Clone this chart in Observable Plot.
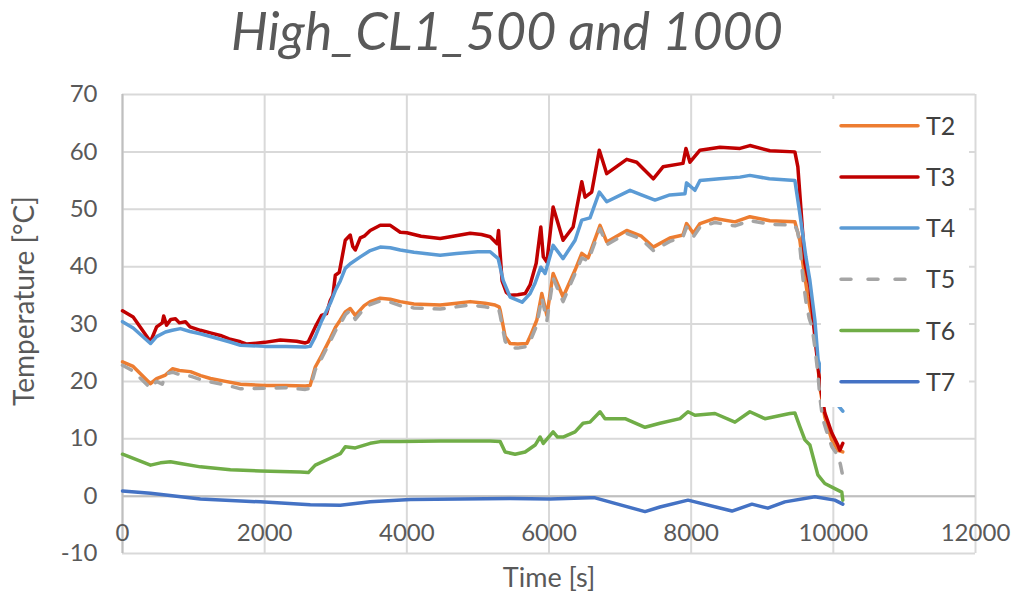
<!DOCTYPE html>
<html>
<head>
<meta charset="utf-8">
<script src="https://cdn.jsdelivr.net/npm/d3@7"></script>
<script src="https://cdn.jsdelivr.net/npm/@observablehq/plot@0.6"></script>
<style>
  html, body { margin: 0; padding: 0; background: #fff; }
  #wrap { position: relative; width: 1014px; height: 597px; background: #fff; overflow: hidden; }
  #title { position: absolute; left: 0; top: 0; width: 1014px; text-align: center;
           font-family: Lato, "Open Sans", sans-serif; font-style: italic; font-weight: 400;
           font-size: 52px; line-height: 60px; color: #595959; }
  #chart { position: absolute; left: 0; top: 0; }
  #legend { position: absolute; left: 821px; top: 99px; }
</style>
</head>
<body>
<div id="wrap">
  <div id="chart"></div>
  <div id="title">High_CL1_500 and 1000</div>
  <div id="legend"></div>
</div>
<script>
const titleText = "High_CL1_500 and 1000";
const xLabel = "Time [s]";
const yLabel = "Temperature [°C]";
const xTicks = [0, 2000, 4000, 6000, 8000, 10000, 12000];
const yTicks = [-10, 0, 10, 20, 30, 40, 50, 60, 70];

const seriesNames = ["T2", "T3", "T4", "T5", "T6", "T7"];
const seriesColors = ["#ED7D31", "#C00000", "#5B9BD5", "#A5A5A5", "#70AD47", "#4472C4"];

// [time s, temperature °C]
const T2 = [[0,23.4],[150,22.6],[394,19.6],[480,20.5],[604,21.1],[703,22.2],[800,21.9],[956,21.7],[1100,21.0],[1237,20.5],[1450,20.0],[1660,19.5],[2000,19.3],[2300,19.3],[2572,19.2],[2640,19.3],[2712,22.5],[2800,24.5],[2923,27.5],[3000,29.5],[3064,30.7],[3134,32.1],[3204,32.7],[3275,31.5],[3400,33.2],[3485,33.9],[3626,34.5],[3767,34.3],[3907,33.9],[4100,33.5],[4469,33.3],[4700,33.6],[4891,33.9],[5100,33.6],[5242,33.3],[5298,33.0],[5313,32.4],[5383,27.8],[5453,26.6],[5560,26.5],[5688,26.6],[5734,27.8],[5829,30.7],[5899,35.3],[5970,31.5],[6058,38.8],[6198,34.7],[6367,39.4],[6461,42.3],[6550,41.5],[6718,47.2],[6812,44.3],[7093,46.3],[7300,45.3],[7467,43.4],[7700,45.0],[7885,45.5],[7935,47.5],[8030,45.8],[8124,47.5],[8335,48.4],[8616,47.8],[8826,48.7],[9107,48.0],[9459,47.8],[9529,44.6],[9572,40.5],[9642,34.7],[9698,31.2],[9740,28.9],[9810,19.0],[9880,13.8],[9979,9.8],[10063,8.0],[10133,7.7]];
const T3 = [[0,32.3],[150,31.2],[394,26.9],[480,29.5],[560,30.2],[580,31.4],[620,29.8],[680,30.8],[745,30.9],[800,30.2],[885,30.4],[950,29.5],[1096,28.9],[1250,28.4],[1377,28.0],[1500,27.4],[1660,26.9],[1750,26.5],[2000,26.8],[2220,27.2],[2450,27.0],[2572,26.7],[2614,26.9],[2712,29.5],[2800,31.5],[2870,31.8],[2923,34.1],[2960,35.0],[2994,38.5],[3050,39.0],[3134,44.6],[3204,45.5],[3240,43.5],[3275,42.9],[3345,45.0],[3400,45.3],[3485,46.3],[3626,47.2],[3767,47.2],[3907,46.0],[4000,45.9],[4200,45.3],[4469,44.9],[4610,45.2],[4891,45.8],[5050,45.6],[5172,45.2],[5270,44.0],[5290,46.3],[5305,43.5],[5340,37.5],[5400,35.5],[5453,35.0],[5560,35.1],[5664,35.3],[5734,36.8],[5820,40.6],[5885,46.9],[5920,41.7],[5970,40.8],[6058,50.4],[6198,44.6],[6339,46.9],[6461,54.8],[6507,52.1],[6601,53.0],[6708,60.3],[6812,56.2],[7093,58.7],[7234,58.2],[7467,55.3],[7604,57.4],[7885,58.0],[7927,60.6],[7983,58.2],[8124,60.3],[8405,60.8],[8686,60.6],[8826,61.1],[9107,60.2],[9459,60.0],[9501,57.4],[9600,40.6],[9670,36.5],[9740,27.8],[9810,19.7],[9880,14.5],[9979,11.0],[10063,8.9],[10091,8.0],[10133,9.2]];
const T4 = [[0,30.4],[150,29.3],[394,26.6],[480,27.8],[604,28.6],[700,28.9],[815,29.2],[950,28.7],[1096,28.3],[1300,27.6],[1500,26.9],[1660,26.3],[2000,26.1],[2300,26.1],[2572,26.0],[2640,26.1],[2712,27.8],[2800,30.5],[2923,33.6],[3000,36.0],[3064,37.5],[3134,39.7],[3204,40.5],[3345,41.7],[3485,42.8],[3626,43.4],[3767,43.3],[3907,42.9],[4100,42.5],[4469,42.0],[4700,42.3],[5000,42.6],[5172,42.6],[5285,41.4],[5355,37.6],[5453,34.7],[5622,33.8],[5734,35.3],[5800,37.0],[5885,39.9],[5945,38.8],[6058,43.7],[6198,41.4],[6367,44.6],[6461,48.1],[6577,48.5],[6708,53.0],[6812,51.3],[7140,53.3],[7300,52.5],[7491,51.6],[7700,52.5],[7913,52.7],[7935,54.6],[8053,53.3],[8124,55.0],[8400,55.3],[8686,55.6],[8826,55.9],[9100,55.3],[9459,55.0],[9529,49.2],[9614,41.7],[9670,37.6],[9740,30.7],[9786,23.7],[9900,19.5],[10000,16.8],[10133,14.8]];
const T5 = [[0,22.8],[150,21.8],[394,18.8],[480,20.0],[560,19.5],[604,21.3],[703,21.6],[800,21.2],[956,20.9],[1100,20.3],[1237,19.9],[1450,19.4],[1660,18.7],[2000,18.8],[2300,18.9],[2572,18.6],[2640,18.8],[2712,22.0],[2800,24.0],[2923,27.0],[3000,28.9],[3064,30.0],[3134,31.6],[3204,32.4],[3275,30.8],[3400,32.7],[3485,33.4],[3626,34.0],[3767,33.8],[3907,33.2],[4100,32.8],[4469,32.6],[4700,33.0],[4891,33.3],[5100,33.0],[5242,32.6],[5298,32.3],[5313,31.5],[5383,27.0],[5453,25.9],[5560,25.8],[5688,26.1],[5734,27.0],[5829,29.8],[5899,34.6],[5970,30.5],[6058,38.0],[6198,33.9],[6367,38.8],[6461,41.5],[6550,41.0],[6718,46.6],[6812,43.8],[7093,45.8],[7300,44.8],[7467,42.8],[7700,44.4],[7885,45.2],[7935,46.9],[8030,45.2],[8124,46.9],[8335,47.7],[8616,47.1],[8826,48.0],[9107,47.4],[9459,47.2],[9500,46.0],[9529,43.5],[9572,38.0],[9614,34.0],[9660,31.0],[9700,29.5],[9740,26.0],[9786,21.0],[9810,17.3],[9850,13.5],[9900,11.5],[9979,8.6],[10063,7.1],[10100,5.5],[10133,3.5]];
const T6 = [[0,7.3],[394,5.4],[534,5.8],[675,6.0],[815,5.7],[1096,5.1],[1518,4.6],[1940,4.4],[2502,4.2],[2614,4.1],[2712,5.4],[2923,6.6],[3064,7.4],[3134,8.6],[3275,8.4],[3485,9.2],[3626,9.5],[3907,9.5],[4469,9.6],[5172,9.6],[5313,9.5],[5383,7.7],[5523,7.3],[5664,7.7],[5805,8.9],[5875,10.3],[5920,9.2],[6058,11.2],[6120,10.3],[6198,10.3],[6367,11.2],[6479,12.7],[6577,12.9],[6718,14.7],[6788,13.5],[7070,13.5],[7351,12.0],[7561,12.7],[7843,13.5],[7955,14.7],[8053,14.1],[8335,14.4],[8616,12.9],[8826,14.7],[9037,13.5],[9388,14.4],[9459,14.5],[9529,12.1],[9600,9.8],[9670,8.9],[9782,3.7],[9880,2.2],[10021,1.3],[10119,0.7],[10133,-0.7]];
const T7 = [[0,0.9],[394,0.5],[1096,-0.5],[1940,-1.0],[2642,-1.5],[3064,-1.6],[3485,-1.0],[4048,-0.6],[4750,-0.5],[5453,-0.4],[6015,-0.5],[6577,-0.3],[6648,-0.3],[7351,-2.7],[7561,-1.9],[7955,-0.7],[8574,-2.6],[8855,-1.4],[9079,-2.1],[9318,-1.0],[9740,-0.1],[10021,-0.7],[10133,-1.4]];

const seriesData = [T2, T3, T4, T5, T6, T7];

const lineMarks = seriesData.map((arr, i) =>
  Plot.line(arr.map(([t, v]) => ({t, v})), {
    x: "t", y: "v",
    stroke: seriesColors[i],
    strokeWidth: 3.5,
    strokeLinejoin: "round",
    strokeLinecap: "round",
    strokeDasharray: seriesNames[i] === "T5" ? "10,12" : null
  })
);

const chart = Plot.plot({
  width: 1014,
  height: 597,
  marginTop: 94,
  marginBottom: 44,
  marginLeft: 122,
  marginRight: 39,
  style: { fontFamily: "Lato, 'Open Sans', sans-serif", fontSize: "24px", color: "#595959", background: "#fff" },
  x: { domain: [0, 12000], label: null },
  y: { domain: [-10, 70], label: null },
  marks: [
    Plot.gridX(xTicks, { stroke: "#d9d9d9", strokeOpacity: 1, strokeWidth: 2 }),
    Plot.gridY(yTicks, { stroke: "#d9d9d9", strokeOpacity: 1, strokeWidth: 2 }),
    Plot.ruleY([0], { stroke: "#bfbfbf", strokeWidth: 2 }),
    Plot.ruleX([0], { stroke: "#bfbfbf", strokeWidth: 2 }),
    ...lineMarks,
    Plot.axisX(xTicks, { anchor: "bottom", tickSize: 0, tickPadding: 0, dy: -30, tickFormat: d => String(d), label: null, fill: "#595959", fontSize: 24 }),
    Plot.axisY(yTicks, { anchor: "left", tickSize: 0, tickPadding: 25, tickFormat: d => String(d), label: null, fill: "#595959", fontSize: 24 }),
    Plot.text([yLabel], { text: d => d, frameAnchor: "left", textAnchor: "middle", rotate: -90, dx: -97, dy: -23, fontSize: 28, fill: "#595959" }),
    Plot.text([xLabel], { text: d => d, frameAnchor: "bottom", textAnchor: "middle", dy: 24.5, lineAnchor: "middle", fontSize: 27, fill: "#595959" })
  ]
});
document.getElementById("chart").appendChild(chart);
document.getElementById("title").textContent = titleText;

// Legend (overlaid on the plot area, white background)
const lg = d3.select("#legend").append("svg").attr("width", 148).attr("height", 308);
lg.append("rect").attr("width", 148).attr("height", 308).attr("fill", "#fff");
seriesNames.forEach((name, i) => {
  const cy = 26.7 + i * 51.2;
  lg.append("line")
    .attr("x1", 20).attr("x2", 97).attr("y1", cy).attr("y2", cy)
    .attr("stroke", seriesColors[i]).attr("stroke-width", 3.5)
    .attr("stroke-linecap", "round")
    .attr("stroke-dasharray", name === "T5" ? "10,17" : null);
  lg.append("text")
    .attr("x", 105).attr("y", cy).attr("dy", "0.36em")
    .attr("font-family", "Lato, 'Open Sans', sans-serif").attr("font-size", 25)
    .attr("fill", "#404040").text(name);
});
</script>
</body>
</html>
